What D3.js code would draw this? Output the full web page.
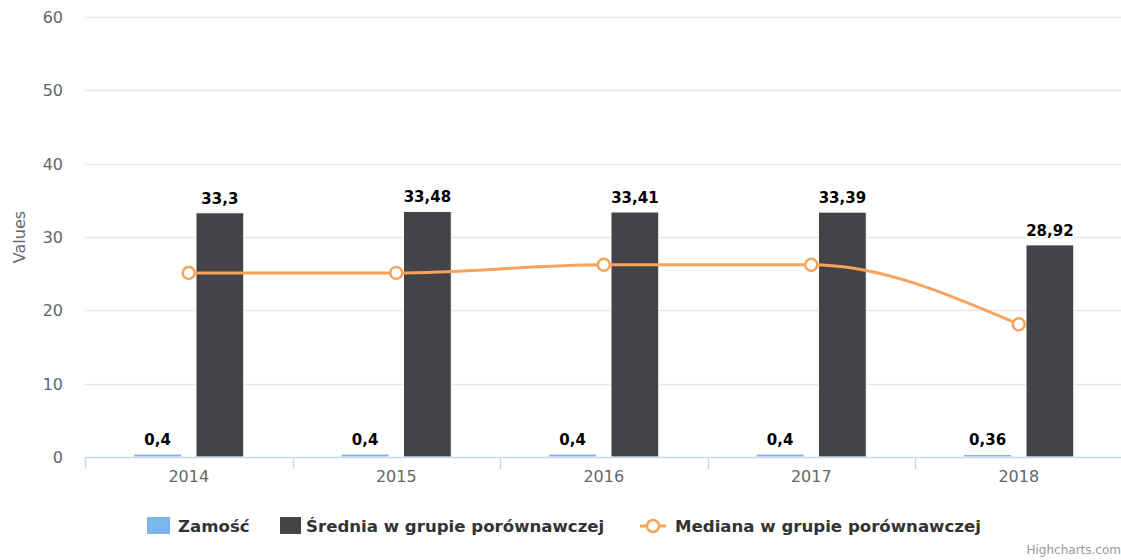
<!DOCTYPE html>
<html><head><meta charset="utf-8">
<script src="https://cdn.jsdelivr.net/npm/d3@7"></script>
<style>
body{margin:0;background:#fff;}
svg{display:block;font-family:"DejaVu Sans",sans-serif;}
</style></head><body>
<svg id="chart" width="1121" height="560"></svg>
<script>
const categories = ["2014","2015","2016","2017","2018"];
const zamosc = [0.4, 0.4, 0.4, 0.4, 0.36];
const srednia = [33.3, 33.48, 33.41, 33.39, 28.92];
const mediana = [25.1, 25.1, 26.2, 26.2, 18.1];
const yTicks = [0,10,20,30,40,50,60];
const seriesNames = ["Zamość","Średnia w grupie porównawczej","Mediana w grupie porównawczej"];
const colors = ["#7cb5ec","#434348","#f7a35c"];

const svg = d3.select("#chart");
const W = 1121, H = 560;
const m = {left:85, right:1122.5, top:17, bottom:457};

const x = d3.scaleBand().domain(categories).range([m.left, m.right]);
const y = d3.scaleLinear().domain([0,60]).range([m.bottom, m.top]);
// Highcharts-like group layout: groupPadding .2, pointPadding .1
const bw = x.bandwidth();
const groupW = bw*0.6;
const slot = groupW/2;
const barW = slot*0.8 - 2;
function barX(cat, si){ return x(cat) + bw*0.2 + slot*si + (slot-barW)/2; }

// gridlines
svg.append("g").selectAll("line").data(yTicks.filter(d=>d>0)).join("line")
  .attr("x1", m.left).attr("x2", W).attr("y1", d=>Math.round(y(d))+0.5).attr("y2", d=>Math.round(y(d))+0.5)
  .attr("stroke","#e6e6e6").attr("stroke-width",1.5);

// y axis labels
const yAxis = d3.axisLeft(y).tickValues(yTicks).tickSize(0).tickPadding(0).tickFormat(d3.format("d"));
const yg = svg.append("g").attr("transform",`translate(${m.left-22},0)`).call(yAxis);
yg.select(".domain").remove();
yg.selectAll("text").attr("fill","#666").attr("font-size",16).attr("font-family","DejaVu Sans").attr("dy","0.35em");

// y title
svg.append("text").attr("transform",`translate(25,${(m.top+m.bottom)/2}) rotate(-90)`)
  .attr("text-anchor","middle").attr("fill","#666").attr("font-size",16).text("Values");

// bars
const barsData = [zamosc, srednia];
barsData.forEach((vals, si)=>{
  svg.append("g").selectAll("rect").data(vals).join("rect")
    .attr("x",(d,i)=>barX(categories[i],si)).attr("width",barW)
    .attr("y",d=>y(d)).attr("height",d=>m.bottom-y(d))
    .attr("fill",colors[si]).attr("stroke","#fff").attr("stroke-width",1);
});

// x axis
const xAxis = d3.axisBottom(x).tickSize(0).tickPadding(14);
const xg = svg.append("g").attr("transform",`translate(0,${m.bottom})`).call(xAxis);
xg.select(".domain").remove();
xg.selectAll("text").attr("fill","#666").attr("font-size",16).attr("font-family","DejaVu Sans");
svg.append("line").attr("x1",m.left).attr("x2",W).attr("y1",m.bottom+0.5).attr("y2",m.bottom+0.5).attr("stroke","#ccd6eb").attr("stroke-width",1.5);
svg.append("g").selectAll("line").data(categories.concat(["end"])).join("line")
  .attr("x1",(d,i)=>Math.round(m.left+i*bw)+0.5).attr("x2",(d,i)=>Math.round(m.left+i*bw)+0.5)
  .attr("y1",m.bottom).attr("y2",m.bottom+12).attr("stroke","#ccd6eb").attr("stroke-width",1.5);

// line
const line = d3.line().x((d,i)=>x(categories[i])+bw/2).y(d=>y(d)).curve(d3.curveMonotoneX);
svg.append("path").datum(mediana).attr("d",line).attr("fill","none").attr("stroke",colors[2]).attr("stroke-width",3);
svg.append("g").selectAll("circle").data(mediana).join("circle")
  .attr("cx",(d,i)=>x(categories[i])+bw/2).attr("cy",d=>y(d)).attr("r",6)
  .attr("fill","#fff").attr("stroke",colors[2]).attr("stroke-width",2.5);

// data labels
const fmt = d=>String(d).replace(".",",");
barsData.forEach((vals, si)=>{
  svg.append("g").selectAll("text").data(vals).join("text")
    .attr("x",(d,i)=>barX(categories[i],si)+barW/2).attr("y",d=>y(d)-9)
    .attr("text-anchor","middle").attr("font-size",15).attr("font-weight","bold").attr("fill","#000")
    .attr("stroke","#fff").attr("stroke-width",3).attr("paint-order","stroke").attr("stroke-linejoin","round")
    .text(fmt);
});

// legend
const lg = svg.append("g").attr("font-size",16.6).attr("font-weight","bold").attr("fill","#333");
const ly = 526;
lg.append("rect").attr("x",147).attr("y",ly-9).attr("width",23).attr("height",17).attr("fill",colors[0]);
lg.append("text").attr("x",178).attr("y",ly).attr("dy","0.35em").attr("fill","#333").text(seriesNames[0]);
lg.append("rect").attr("x",280).attr("y",ly-9).attr("width",21).attr("height",17).attr("fill",colors[1]);
lg.append("text").attr("x",306).attr("y",ly).attr("dy","0.35em").attr("fill","#333").text(seriesNames[1]);
lg.append("line").attr("x1",640).attr("x2",666).attr("y1",ly).attr("y2",ly).attr("stroke",colors[2]).attr("stroke-width",3);
lg.append("circle").attr("cx",653).attr("cy",ly).attr("r",6).attr("fill","#fff").attr("stroke",colors[2]).attr("stroke-width",2.5);
lg.append("text").attr("x",675).attr("y",ly).attr("dy","0.35em").attr("fill","#333").text(seriesNames[2]);

// credits
svg.append("text").attr("x",1121).attr("y",554).attr("text-anchor","end").attr("font-size",12).attr("fill","#999").text("Highcharts.com");
</script></body></html>
